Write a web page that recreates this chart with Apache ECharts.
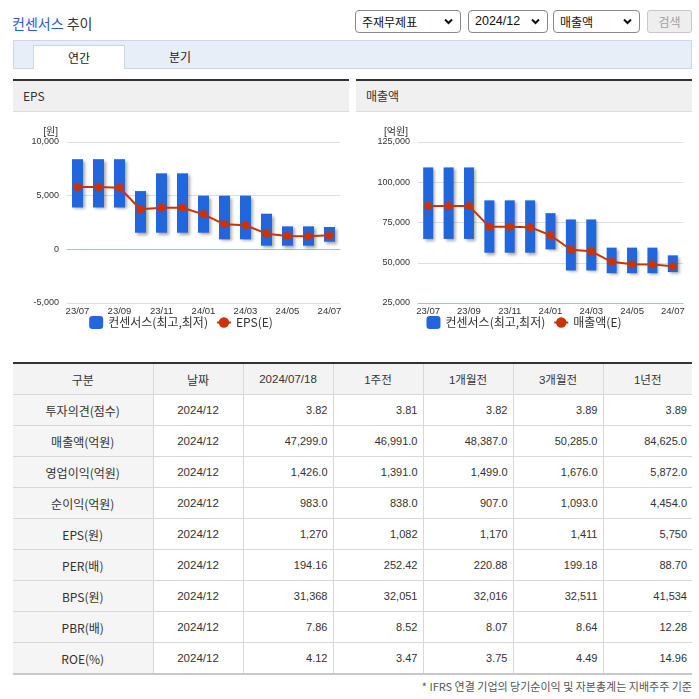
<!DOCTYPE html>
<html>
<head>
<meta charset="utf-8">
<script src="https://cdn.jsdelivr.net/npm/echarts@6/dist/echarts.min.js"></script>
<style>
  html, body { margin:0; padding:0; background:#fff; }
  body { width:699px; height:699px; position:relative; overflow:hidden;
         font-family: "Liberation Sans", "Noto Sans CJK KR", sans-serif; color:#333; }
  .abs { position:absolute; }
  #title { left:12px; top:12px; font-size:14px; line-height:22px; font-family:"Noto Sans CJK KR", sans-serif; color:#333; }
  #title .blue { color:#2a5bd0; }
  .sel { position:absolute; top:10px; height:21px; border:1px solid #8a8a8a; border-radius:4px; background:#fff;
         font-size:12px; line-height:21px; color:#111; box-sizing:content-box; }
  .sel span { position:absolute; left:6px; top:0; font-family:"Noto Sans CJK KR", sans-serif; }
  .sel svg { position:absolute; right:7px; top:7px; }
  #btn { position:absolute; left:647px; top:10px; width:43px; height:21px; border:1px solid #c8c8c8; border-radius:3px;
         background:#eeeeee; color:#a0a0a0; font-size:12px; line-height:21px; text-align:center; font-family:"Noto Sans CJK KR", sans-serif; }
  #tabbar { left:13px; top:40px; width:677px; height:27px; background:#e8eef8; border:1px solid #cdd7e8; }
  #tab1 { left:33px; top:45px; width:90px; height:23px; background:#fff; border:1px solid #cdd7e8; border-bottom:none;
          text-align:center; font-size:12px; line-height:23px; font-family:"Noto Sans CJK KR", sans-serif; color:#222; }
  #tab2 { left:135px; top:45px; width:90px; height:23px; text-align:center; font-size:12px; line-height:23px;
          font-family:"Noto Sans CJK KR", sans-serif; color:#222; }
  .phead { position:absolute; top:79px; width:336px; height:30px; border-top:2px solid #333; border-bottom:1px solid #dcdcdc;
           background:#f0f0f0; font-size:12px; line-height:30px; font-family:"Noto Sans CJK KR", sans-serif; color:#333; }
  .phead span { padding-left:10px; }
  .chart { position:absolute; top:112px; width:336px; height:232px; }
  #tbl { position:absolute; left:13px; top:362px; width:679px; border-collapse:collapse; table-layout:fixed;
         border-top:2px solid #333; border-bottom:2px solid #c8c8c8; }
  #tbl th, #tbl td { height:30px; padding:0; border:1px solid #d8d8d8; font-weight:normal; font-size:11px; color:#333;
         overflow:hidden; white-space:nowrap; }
  #tbl tr > *:first-child { border-left:none; }
  #tbl tr > *:last-child { border-right:none; }
  #tbl th { background:#f3f3f3; text-align:center; font-size:12px; }
  #tbl td.name { background:#f5f5f5; text-align:center; font-size:12px; font-family:"Noto Sans CJK KR", sans-serif; }
  #tbl td.date { text-align:center; font-size:11.5px; }
  #tbl td.num { text-align:right; padding-right:5px; }
  #note { right:7px; top:678px; font-size:11px; color:#555; font-family:"Noto Sans CJK KR", sans-serif; line-height:16px; }
</style>
</head>
<body>
<div id="title" class="abs"><span class="blue">컨센서스</span> 추이</div>

<div class="sel" style="left:355px;width:104px;"><span>주재무제표</span><svg width="9" height="7" viewBox="0 0 9 7"><path d="M1 1.5 L4.5 5 L8 1.5" stroke="#111" stroke-width="2" fill="none"/></svg></div>
<div class="sel" style="left:468px;width:78px;"><span style="font-family:'Liberation Sans Narrow','Liberation Sans',sans-serif;font-size:12.5px;">2024/12</span><svg width="9" height="7" viewBox="0 0 9 7"><path d="M1 1.5 L4.5 5 L8 1.5" stroke="#111" stroke-width="2" fill="none"/></svg></div>
<div class="sel" style="left:553px;width:85px;"><span>매출액</span><svg width="9" height="7" viewBox="0 0 9 7"><path d="M1 1.5 L4.5 5 L8 1.5" stroke="#111" stroke-width="2" fill="none"/></svg></div>
<div id="btn">검색</div>

<div id="tabbar" class="abs"></div>
<div id="tab1" class="abs">연간</div>
<div id="tab2" class="abs">분기</div>

<div class="phead" style="left:13px;"><span>EPS</span></div>
<div class="phead" style="left:356px;"><span>매출액</span></div>
<div id="c1" class="chart" style="left:13px;"></div>
<div id="c2" class="chart" style="left:356px;"></div>

<table id="tbl"><colgroup id="cg"></colgroup><thead><tr id="hrow"></tr></thead><tbody id="tbody"></tbody></table>
<div id="note" class="abs">* IFRS 연결 기업의 당기순이익 및 자본총계는 지배주주 기준</div>

<script>
// ---- chart data ----
const months = ['23/07','23/08','23/09','23/10','23/11','23/12','24/01','24/02','24/03','24/04','24/05','24/06','24/07'];
const epsHigh = [8400, 8400, 8400, 5430, 7080, 7080, 5000, 5000, 5000, 3320, 2140, 2140, 2080];
const epsLow  = [3900, 3900, 3900, 1550, 1550, 1550, 1550, 930, 930, 340, 340, 340, 710];
const epsEst  = [5800, 5800, 5740, 3730, 3880, 3880, 3260, 2330, 2240, 1460, 1240, 1230, 1320];
const salesHigh = [109200, 109200, 109200, 88750, 88750, 88750, 80800, 76900, 76900, 59400, 59400, 59400, 54600];
const salesLow  = [64800, 64800, 64800, 56250, 56250, 56250, 58300, 45200, 45200, 43500, 43500, 43500, 44200];
const salesEst  = [85200, 85200, 85300, 72300, 72300, 72100, 67100, 58100, 57100, 50600, 49000, 48900, 47900];

// ---- table data ----
const tableCols = ['구분','날짜','2024/07/18','1주전','1개월전','3개월전','1년전'];
const colWidths = [140, 90, 90, 90, 90, 90, 89];
const rowNames = ['투자의견(점수)','매출액(억원)','영업이익(억원)','순이익(억원)','EPS(원)','PER(배)','BPS(원)','PBR(배)','ROE(%)'];
const rowDates = ['2024/12','2024/12','2024/12','2024/12','2024/12','2024/12','2024/12','2024/12','2024/12'];
const valNow = ['3.82','47,299.0','1,426.0','983.0','1,270','194.16','31,368','7.86','4.12'];
const val1w  = ['3.81','46,991.0','1,391.0','838.0','1,082','252.42','32,051','8.52','3.47'];
const val1m  = ['3.82','48,387.0','1,499.0','907.0','1,170','220.88','32,016','8.07','3.75'];
const val3m  = ['3.89','50,285.0','1,676.0','1,093.0','1,411','199.18','32,511','8.64','4.49'];
const val1y  = ['3.89','84,625.0','5,872.0','4,454.0','5,750','88.70','41,534','12.28','14.96'];

// build table
const cg = document.getElementById('cg');
colWidths.forEach(w => { const col = document.createElement('col'); col.style.width = w + 'px'; cg.appendChild(col); });
const hrow = document.getElementById('hrow');
tableCols.forEach((c, i) => {
  const th = document.createElement('th');
  th.textContent = c;
  if (i >= 2) th.style.fontSize = '11.5px';
  hrow.appendChild(th);
});
const tbody = document.getElementById('tbody');
rowNames.forEach((n, r) => {
  const tr = document.createElement('tr');
  const cells = [[n,'name'],[rowDates[r],'date'],[valNow[r],'num'],[val1w[r],'num'],[val1m[r],'num'],[val3m[r],'num'],[val1y[r],'num']];
  cells.forEach(([t, cls]) => {
    const td = document.createElement('td');
    td.textContent = t; td.className = cls;
    tr.appendChild(td);
  });
  tbody.appendChild(tr);
});

const BAR = '#2266dd', LINE = '#cc3300';
function makeOption(high, low, est, unit, lineName, ymin, ymax, yint, gridLeft, unitPad, barW) {
  const rangeVals = high.map((h, i) => h - low[i]);
  return {
    animation: false,
    textStyle: { fontFamily: '"Liberation Sans","Noto Sans CJK KR",sans-serif' },
    grid: { left: gridLeft, right: 9, top: 30, bottom: 41 },
    legend: {
      bottom: 10, left: 'center', itemWidth: 14, itemHeight: 13, itemGap: 8,
      textStyle: { fontSize: 12, color: '#333', fontFamily: '"Noto Sans CJK KR",sans-serif' },
      data: [{ name: '컨센서스(최고,최저)', icon: 'roundRect' }, { name: lineName }]
    },
    xAxis: {
      type: 'category', data: months, boundaryGap: true,
      axisLine: { lineStyle: { color: '#a9bfe0' } },
      axisTick: { lineStyle: { color: '#a9bfe0' }, length: 5, interval: (i) => i % 2 === 1 },
      axisLabel: { interval: 1, fontSize: 9.5, color: '#333', margin: 4 }
    },
    yAxis: {
      type: 'value', min: ymin, max: ymax, interval: yint,
      name: unit, nameLocation: 'end', nameGap: 4,
      nameTextStyle: { fontSize: 10, color: '#333', align: 'right', padding: [0, unitPad, 0, 0] },
      axisLine: { show: false }, axisTick: { show: false },
      axisLabel: { fontSize: 9, color: '#333', margin: 8 },
      splitLine: { lineStyle: { color: '#dedede' } }
    },
    series: [
      { name: 'base', type: 'bar', stack: 'r', data: low, barWidth: barW, silent: true,
        itemStyle: { color: 'rgba(0,0,0,0)' } },
      { name: '컨센서스(최고,최저)', type: 'bar', stack: 'r', data: rangeVals, barWidth: barW,
        itemStyle: { color: BAR, shadowColor: 'rgba(0,0,0,0.35)', shadowBlur: 3, shadowOffsetX: 2, shadowOffsetY: 2 } },
      { name: lineName, type: 'line', data: est, symbol: 'circle', symbolSize: 8,
        lineStyle: { color: LINE, width: 2 }, itemStyle: { color: LINE } }
    ]
  };
}

const c1 = echarts.init(document.getElementById('c1'));
c1.setOption(makeOption(epsHigh, epsLow, epsEst, '[원]', 'EPS(E)', -5000, 10000, 5000, 54, 9, 11));
const c2 = echarts.init(document.getElementById('c2'));
c2.setOption(makeOption(salesHigh, salesLow, salesEst, '[억원]', '매출액(E)', 25000, 125000, 25000, 62, 10, 10));
</script>
</body>
</html>
